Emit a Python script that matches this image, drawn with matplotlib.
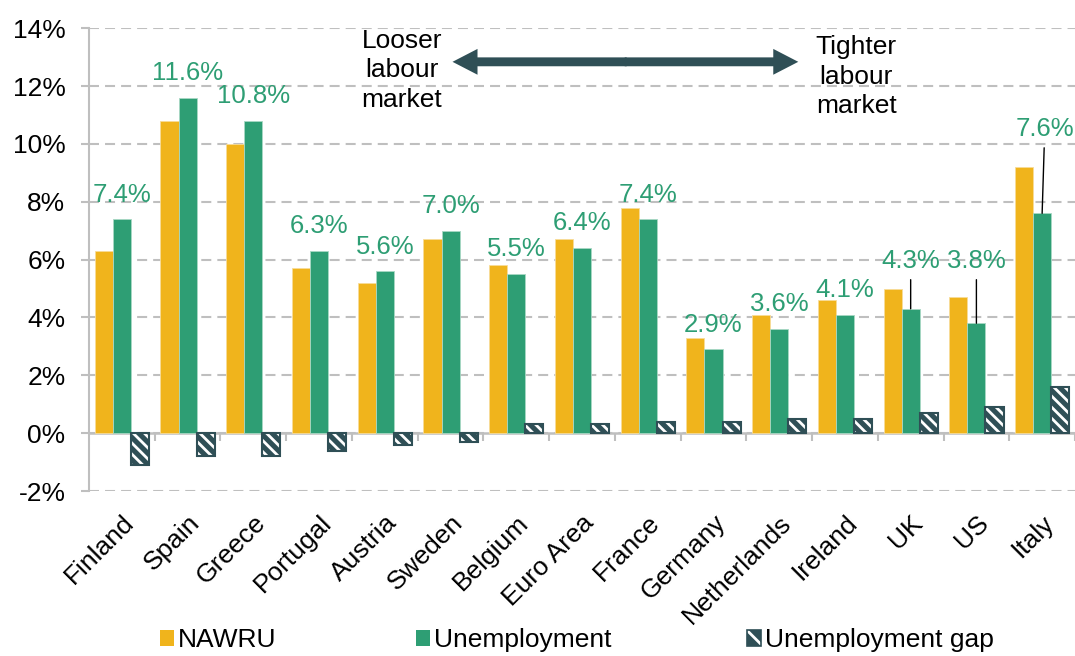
import numpy as np
import matplotlib.pyplot as plt
from matplotlib.patches import Patch
from matplotlib.legend_handler import HandlerTuple

plt.rcParams['font.family'] = ['Liberation Sans', 'DejaVu Sans']
plt.rcParams['hatch.linewidth'] = 2.0

# values in %
countries = ['Finland', 'Spain', 'Greece', 'Portugal', 'Austria', 'Sweden', 'Belgium',
             'Euro Area', 'France', 'Germany', 'Netherlands', 'Ireland', 'UK', 'US', 'Italy']
nawru = [6.3, 10.8, 10.0, 5.7, 5.2, 6.7, 5.8, 6.7, 7.8, 3.3, 4.1, 4.6, 5.0, 4.7, 9.2]
unemployment = [7.4, 11.6, 10.8, 6.3, 5.6, 7.0, 5.5, 6.4, 7.4, 2.9, 3.6, 4.1, 4.3, 3.8, 7.6]
gap = [-1.1, -0.8, -0.8, -0.6, -0.4, -0.3, 0.3, 0.3, 0.4, 0.4, 0.5, 0.5, 0.7, 0.9, 1.6]
yticks = [-2, 0, 2, 4, 6, 8, 10, 12, 14]

yellow = '#F0B41C'
green = '#2E9E74'
dark = '#2F4F56'
grey = '#BFBFBF'

fig = plt.figure(figsize=(10.75, 6.56), dpi=100)
ax = fig.add_axes([0.0828, 0.2515, 0.9172, 0.7054])

x = np.arange(len(countries))
w = 0.275

ax.bar(x - w, nawru, w, color=yellow, edgecolor='#F8DC98', lw=0.6, zorder=2)
ax.bar(x, unemployment, w, color=green, edgecolor='#A8D8C4', lw=0.6, zorder=2)
ax.bar(x + w, gap, w, color=dark, edgecolor='white', hatch='\\\\\\', lw=0, zorder=2)
ax.bar(x + w, gap, w, fill=False, edgecolor=dark, lw=1.5, zorder=3)

# data labels on unemployment bars, some moved up with a leader line
callouts = {12: (12.0, 5.72), 13: (13.0, 5.72), 14: (14.04, 10.28)}
for i, v in enumerate(unemployment):
    if i in callouts:
        ax.annotate(f'{v:.1f}%', xy=(i, v), xytext=callouts[i], ha='center', va='baseline',
                    fontsize=18.5, color=green,
                    arrowprops=dict(arrowstyle='-', color='black', lw=1, shrinkA=3, shrinkB=0))
    else:
        ax.annotate(f'{v:.1f}%', xy=(i, v), xytext=(0, 12.7), textcoords='offset points',
                    ha='center', va='baseline', fontsize=18.5, color=green)

# double arrow and text
style = 'simple,head_length=0.9,head_width=0.93,tail_width=0.32'
ax.annotate('', xy=(5.03, 12.84), xytext=(7.68, 12.84),
            arrowprops=dict(arrowstyle=style, color=dark, lw=0, shrinkA=0, shrinkB=0,
                            mutation_scale=20))
ax.annotate('', xy=(10.29, 12.84), xytext=(7.65, 12.84),
            arrowprops=dict(arrowstyle=style, color=dark, lw=0, shrinkA=0, shrinkB=0,
                            mutation_scale=20))
ax.text(4.26, 12.54, 'Looser\nlabour\nmarket', ha='center', va='center', fontsize=19,
        linespacing=1.3)
ax.text(11.17, 12.33, 'Tighter\nlabour\nmarket', ha='center', va='center', fontsize=19,
        linespacing=1.3)

ax.set_xlim(-0.5, len(countries) - 0.5)
ax.set_ylim(-2, 14)
ax.set_yticks(yticks)
ax.set_yticklabels([f'{t}%' for t in yticks], fontsize=19)
ax.set_xticks(x)
ax.set_xticklabels(countries, rotation=45, ha='right', rotation_mode='anchor', fontsize=19)
ax.tick_params(axis='x', length=0, pad=14)
ax.tick_params(axis='y', length=6, color=grey, width=1.5, pad=11)

ax.grid(axis='y', color=grey, lw=1.5, linestyle=(0, (4.8, 2.9)), zorder=0)
ax.set_axisbelow(True)
for s in ['top', 'right', 'bottom']:
    ax.spines[s].set_visible(False)
ax.spines['left'].set_color(grey)
ax.spines['left'].set_linewidth(1.5)

# zero line with separators between countries
ax.axhline(0, color=grey, lw=1.8, zorder=1.5)
ax.vlines(np.arange(0.5, len(countries)), -0.27, 0, color=grey, lw=1.5, zorder=1.5)

handles = [Patch(facecolor=yellow), Patch(facecolor=green),
           (Patch(facecolor=dark, edgecolor='white', hatch='\\\\', lw=0),
            Patch(fill=False, edgecolor=dark, lw=1.2))]
labels = ['NAWRU', 'Unemployment', 'Unemployment gap']
lx = [0.1488, 0.387, 0.695]
for h, lab, xx in zip(handles, labels, lx):
    fig.legend([h], [lab], handler_map={tuple: HandlerTuple(ndivide=1, pad=0)},
               loc='center left', bbox_to_anchor=(xx, 0.024), frameon=False, fontsize=19,
               handlelength=0.53, handleheight=0.57, handletextpad=0.15,
               borderpad=0, borderaxespad=0)

fig.savefig('out.png', dpi=100)
